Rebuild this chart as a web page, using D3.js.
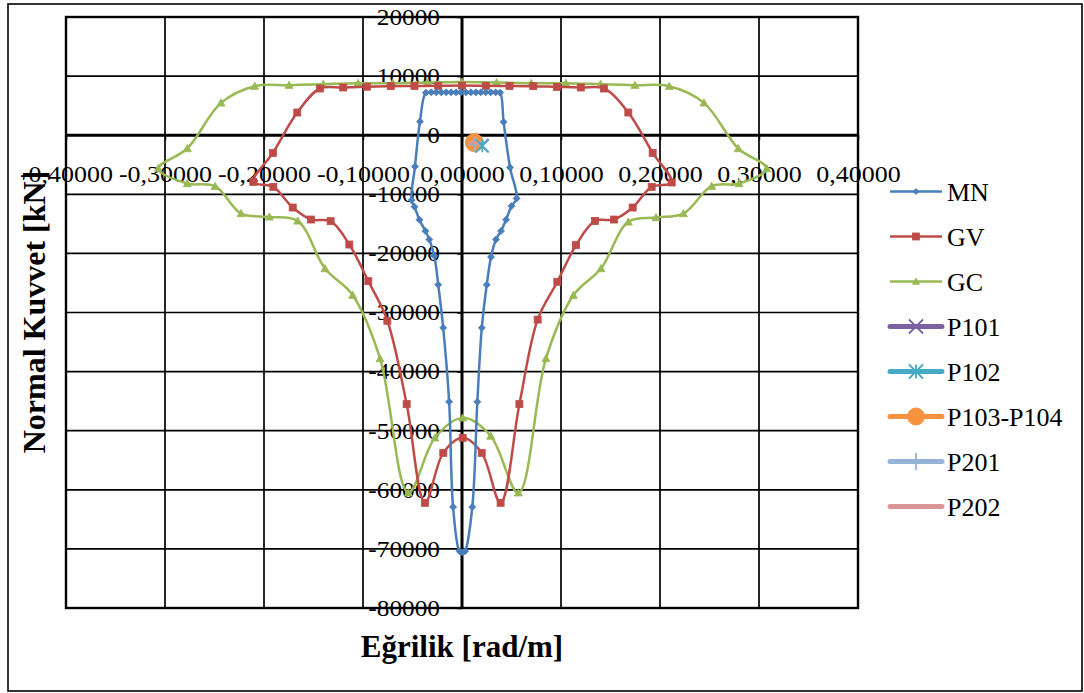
<!DOCTYPE html>
<html><head><meta charset="utf-8">
<script src="https://cdn.jsdelivr.net/npm/d3@7"></script>
<style>html,body{margin:0;padding:0;background:#fff;} svg{display:block;}</style>
</head><body><svg id="c" width="1084" height="693"></svg>
<script>
// ---------- data ----------
const xTickValues = [-0.4,-0.3,-0.2,-0.1,0,0.1,0.2,0.3,0.4];
const xTickLabels = ["-0,40000","-0,30000","-0,20000","-0,10000","0,00000","0,10000","0,20000","0,30000","0,40000"];
const yTickValues = [20000,10000,0,-10000,-20000,-30000,-40000,-50000,-60000,-70000,-80000];
const yTickLabels = ["20000","10000","0","-10000","-20000","-30000","-40000","-50000","-60000","-70000","-80000"];

const mnX = [-0.0365,-0.031,-0.026,-0.021,-0.016,-0.011,-0.006,-0.001,0.004,0.009,0.014,0.019,0.024,0.029,0.034,0.0385,
  0.042,0.0485,0.0552,0.050,0.0445,0.0394,0.0343,0.0293,0.025,0.020,0.0155,0.0104,0.003,0.0005,-0.0025,-0.009,-0.013,-0.019,-0.024,-0.028,-0.033,-0.037,-0.043,-0.048,-0.051,-0.0475,-0.0425];
const mnY = [7200,7250,7250,7250,7250,7250,7250,7250,7250,7250,7250,7250,7250,7250,7250,7200,
  2250,-5450,-10700,-12000,-14300,-16200,-17650,-20600,-25300,-32600,-45100,-62900,-70400,-70600,-70400,-62900,-45100,-32600,-25300,-20400,-17650,-16200,-14300,-12100,-11000,-5300,2300];

const gvX = [-0.1434,-0.12,-0.096,-0.072,-0.048,-0.024,0,0.024,0.048,0.072,0.096,0.12,0.1434,
  0.168,0.1926,0.2118,0.1916,0.1724,0.1535,0.1343,0.1152,0.0963,0.0764,0.058,0.039,0.0199,0.0007,
  -0.0189,-0.0374,-0.0559,-0.0754,-0.0946,-0.1138,-0.1327,-0.1525,-0.171,-0.1906,-0.2108,-0.191,-0.1664];
const gvY = [7900,8070,8200,8300,8340,8350,8400,8350,8340,8300,8170,8070,7900,
  3840,-2990,-8000,-8740,-12240,-14270,-14500,-18600,-24800,-31200,-45500,-62200,-53750,-51200,
  -53750,-62200,-45500,-31400,-24700,-18500,-14550,-14270,-12240,-8740,-7900,-2990,3840];

const gcX = [-0.2094,-0.1747,-0.14,-0.105,-0.07,-0.035,0,0.035,0.07,0.105,0.14,0.1747,0.2094,
  0.2444,0.279,0.3078,0.2798,0.2522,0.2236,0.196,0.168,0.1404,0.1125,0.0848,0.0569,0.029,0.0007,
  -0.0273,-0.0542,-0.0828,-0.1104,-0.1384,-0.166,-0.1946,-0.2232,-0.2495,-0.2775,-0.3068,-0.2775,-0.2434];
const gcY = [8290,8460,8630,8800,8800,8900,9000,8900,8800,8800,8630,8460,8290,
  5470,-2250,-5640,-8170,-8630,-13250,-13930,-14670,-22560,-27070,-37780,-60500,-50900,-47830,
  -51200,-60500,-37780,-27070,-22560,-14500,-13820,-13250,-8630,-8170,-5640,-2250,5470];

const pointNames = ["P101","P102","P103-P104","P201","P202"];
const pointX = [0.020,0.0205,0.0125,0.013,0.0145];
const pointY = [-1750,-1800,-1250,-1600,-1300];

const legendNames = ["MN","GV","GC","P101","P102","P103-P104","P201","P202"];

// ---------- chart ----------
const svg = d3.select("#c");
const FONT = "'Liberation Serif','Times New Roman',serif";
const P = {l:66, r:858, t:17, b:608};
const x = d3.scaleLinear().domain([-0.4,0.4]).range([P.l,P.r]);
const y = d3.scaleLinear().domain([-80000,20000]).range([P.b,P.t]);

const C = {MN:"#4a7ebb", GV:"#be4b48", GC:"#98b954", P101:"#7d60a0", P102:"#46aac5", "P103-P104":"#f69240", P201:"#95b3d7", P202:"#d99694"};

svg.append("rect").attr("width",1084).attr("height",693).attr("fill","#fff");
svg.append("rect").attr("x",8).attr("y",4).attr("width",1074).attr("height",687)
  .attr("fill","none").attr("stroke","#000").attr("stroke-width",1.6);

// gridlines
const grid = svg.append("g");
xTickValues.forEach(v=>{
  grid.append("line").attr("x1",x(v)).attr("x2",x(v)).attr("y1",P.t).attr("y2",P.b)
    .attr("stroke","#000").attr("stroke-width", v===0?3:1.7);
});
yTickValues.forEach(v=>{
  grid.append("line").attr("x1",P.l).attr("x2",P.r).attr("y1",y(v)).attr("y2",y(v))
    .attr("stroke","#000").attr("stroke-width", v===0?3:1.7);
});
svg.append("rect").attr("x",P.l).attr("y",P.t).attr("width",P.r-P.l).attr("height",P.b-P.t)
  .attr("fill","none").attr("stroke","#000").attr("stroke-width",2.4);

function stretch(sel, k){
  sel.each(function(){
    const L = this.getComputedTextLength();
    this.setAttribute("textLength", L*k);
    this.setAttribute("lengthAdjust","spacingAndGlyphs");
  });
}

// axes (labels)
const xa = svg.append("g").attr("transform",`translate(0,${y(0)})`)
  .call(d3.axisBottom(x).tickValues(xTickValues).tickFormat((d,i)=>xTickLabels[i]).tickSize(5).tickPadding(25.5));
xa.select(".domain").remove();
xa.selectAll("line").attr("stroke","#000").attr("stroke-width",1.5);
xa.selectAll("text").attr("font-family",FONT).attr("font-size",23).attr("fill","#000");
const ya = svg.append("g").attr("transform",`translate(${x(0)},0)`)
  .call(d3.axisLeft(y).tickValues(yTickValues).tickFormat((d,i)=>yTickLabels[i]).tickSize(5).tickPadding(17));
ya.select(".domain").remove();
ya.selectAll("line").attr("stroke","#000").attr("stroke-width",1.5);
ya.selectAll("text").attr("font-family",FONT).attr("font-size",23).attr("fill","#000");
stretch(xa.selectAll("text"),1.13);
stretch(ya.selectAll("text"),1.1);

// markers
function marker(g, type, cx, cy, color, s){
  const h = s/2;
  if(type==="diamond"){
    g.append("path").attr("d",`M${cx},${cy-h}L${cx+h},${cy}L${cx},${cy+h}L${cx-h},${cy}Z`).attr("fill",color).attr("stroke",color).attr("stroke-width",0.8);
  } else if(type==="square"){
    g.append("rect").attr("x",cx-h).attr("y",cy-h).attr("width",s).attr("height",s).attr("fill",color).attr("stroke",color).attr("stroke-width",0.8);
  } else if(type==="triangle"){
    g.append("path").attr("d",`M${cx},${cy-h}L${cx+h},${cy+h*0.8}L${cx-h},${cy+h*0.8}Z`).attr("fill",color).attr("stroke",color).attr("stroke-width",0.8);
  } else if(type==="x"){
    g.append("path").attr("d",`M${cx-h},${cy-h}L${cx+h},${cy+h}M${cx-h},${cy+h}L${cx+h},${cy-h}`).attr("stroke",color).attr("stroke-width",1.8).attr("fill","none");
  } else if(type==="star"){
    g.append("path").attr("d",`M${cx-h},${cy-h}L${cx+h},${cy+h}M${cx-h},${cy+h}L${cx+h},${cy-h}M${cx},${cy-h}L${cx},${cy+h}`).attr("stroke",color).attr("stroke-width",1.8).attr("fill","none");
  } else if(type==="circle"){
    g.append("circle").attr("cx",cx).attr("cy",cy).attr("r",h).attr("fill",color).attr("stroke",color);
  } else if(type==="plus"){
    g.append("path").attr("d",`M${cx-h},${cy}L${cx+h},${cy}M${cx},${cy-h}L${cx},${cy+h}`).attr("stroke",color).attr("stroke-width",1.8).attr("fill","none");
  } else if(type==="dash"){
    g.append("rect").attr("x",cx-h).attr("y",cy-1.6).attr("width",s).attr("height",3.2).attr("fill",color);
  }
}

const line = d3.line().x(d=>x(d[0])).y(d=>y(d[1])).curve(d3.curveCatmullRomClosed.alpha(0.5));
const series = [
  {name:"GC", xs:gcX, ys:gcY, m:"triangle", ms:8},
  {name:"GV", xs:gvX, ys:gvY, m:"square", ms:7},
  {name:"MN", xs:mnX, ys:mnY, m:"diamond", ms:7}
];
const sg = svg.append("g");
series.forEach(s=>{
  const pts = s.xs.map((v,i)=>[v,s.ys[i]]);
  sg.append("path").attr("d",line(pts)).attr("fill","none").attr("stroke",C[s.name]).attr("stroke-width",2.5);
  const mg = sg.append("g");
  pts.forEach(p=>marker(mg, s.m, x(p[0]), y(p[1]), C[s.name], s.ms));
});

// single points
const pType = {"P101":"x","P102":"star","P103-P104":"circle","P201":"plus","P202":"dash"};
const pSize = {"P101":13,"P102":13,"P103-P104":18,"P201":15,"P202":15};
const drawOrder = [0,2,3,4,1];
drawOrder.forEach(i=>{
  const n = pointNames[i];
  marker(sg, pType[n], x(pointX[i]), y(pointY[i]), C[n], pSize[n]);
});

// legend
const lg = svg.append("g");
const lType = {MN:"diamond",GV:"square",GC:"triangle",P101:"x",P102:"star","P103-P104":"circle",P201:"plus",P202:null};
const lSize = {MN:6,GV:7,GC:7,P101:14,P102:14,"P103-P104":17,P201:17,P202:0};
legendNames.forEach((n,i)=>{
  const cy = 191.5 + i*45;
  const thick = i>=3;
  lg.append("line").attr("x1",890).attr("x2",942).attr("y1",cy).attr("y2",cy)
    .attr("stroke",C[n]).attr("stroke-width",thick?5:2.3).attr("stroke-linecap",thick?"round":"butt");
  if(lType[n]) marker(lg, lType[n], 916, cy, C[n], lSize[n]);
  lg.append("text").attr("x",947).attr("y",cy+9).attr("font-family",FONT).attr("font-size",26).attr("fill","#000").text(n);
});

// titles
svg.append("text").attr("x",462).attr("y",657).attr("text-anchor","middle")
  .attr("font-family",FONT).attr("font-weight","bold").attr("font-size",31).text("Eğrilik [rad/m]");
svg.append("text").attr("transform","translate(45,312) rotate(-90)").attr("text-anchor","middle")
  .attr("font-family",FONT).attr("font-weight","bold").attr("font-size",32).text("Normal Kuvvet [kN]");
</script>
</body></html>
